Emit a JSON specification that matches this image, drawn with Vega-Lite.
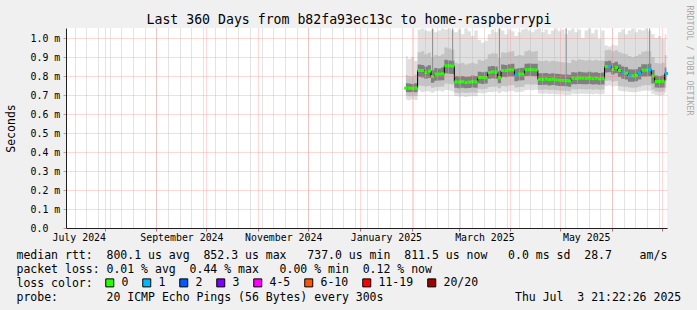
{
  "$schema": "https://vega.github.io/schema/vega-lite/v6.json",
  "width": 601,
  "height": 200,
  "autosize": {"type": "none"},
  "padding": {"left": 66, "top": 28, "right": 30, "bottom": 82},
  "background": "#f0f0f0",
  "view": {"fill": "#ffffff", "stroke": null},
  "config": {"font": "DejaVu Sans Mono"},
  "data": {"values": [
    {"t":"2025-01-28T12:00","med":0.736,"loss":"0","lo":0.676,"b1":0.697,"d1":0.716,"d2":0.762,"b2":0.805,"hi":0.905},
    {"t":"2025-01-30T12:00","med":0.736,"loss":"0","lo":0.672,"b1":0.694,"d1":0.714,"d2":0.760,"b2":0.800,"hi":0.890},
    {"t":"2025-02-01T12:00","med":0.735,"loss":"0","lo":0.678,"b1":0.696,"d1":0.716,"d2":0.758,"b2":0.798,"hi":0.900},
    {"t":"2025-02-03T12:00","med":0.737,"loss":"0","lo":0.674,"b1":0.695,"d1":0.715,"d2":0.762,"b2":0.806,"hi":0.880},
    {"t":"2025-02-05T12:00","med":0.829,"loss":"0","lo":0.722,"b1":0.750,"d1":0.795,"d2":0.860,"b2":0.925,"hi":1.045},
    {"t":"2025-02-07T12:00","med":0.829,"loss":"0","lo":0.716,"b1":0.748,"d1":0.792,"d2":0.858,"b2":0.930,"hi":1.050},
    {"t":"2025-02-09T12:00","med":0.818,"loss":"0","lo":0.720,"b1":0.745,"d1":0.785,"d2":0.850,"b2":0.915,"hi":1.040},
    {"t":"2025-02-11T12:00","med":0.826,"loss":"0","lo":0.718,"b1":0.748,"d1":0.790,"d2":0.856,"b2":0.922,"hi":1.035},
    {"t":"2025-02-13T12:00","med":0.797,"loss":"0","lo":0.712,"b1":0.738,"d1":0.765,"d2":0.830,"b2":0.900,"hi":1.045},
    {"t":"2025-02-15T12:00","med":0.810,"loss":"0","lo":0.720,"b1":0.742,"d1":0.775,"d2":0.842,"b2":0.910,"hi":1.030},
    {"t":"2025-02-17T12:00","med":0.810,"loss":"0","lo":0.722,"b1":0.744,"d1":0.776,"d2":0.840,"b2":0.905,"hi":1.040},
    {"t":"2025-02-19T12:00","med":0.812,"loss":"0","lo":0.718,"b1":0.745,"d1":0.778,"d2":0.845,"b2":0.915,"hi":1.050},
    {"t":"2025-02-21T12:00","med":0.854,"loss":"0","lo":0.726,"b1":0.760,"d1":0.815,"d2":0.885,"b2":0.950,"hi":1.045},
    {"t":"2025-02-23T12:00","med":0.854,"loss":"0","lo":0.724,"b1":0.758,"d1":0.812,"d2":0.882,"b2":0.945,"hi":1.050},
    {"t":"2025-02-25T12:00","med":0.852,"loss":"0","lo":0.720,"b1":0.755,"d1":0.810,"d2":0.880,"b2":0.940,"hi":1.040},
    {"t":"2025-02-27T12:00","med":0.769,"loss":"0","lo":0.695,"b1":0.712,"d1":0.738,"d2":0.800,"b2":0.870,"hi":1.030},
    {"t":"2025-03-01T12:00","med":0.768,"loss":"0","lo":0.692,"b1":0.710,"d1":0.736,"d2":0.798,"b2":0.865,"hi":1.045},
    {"t":"2025-03-03T12:00","med":0.770,"loss":"0","lo":0.694,"b1":0.713,"d1":0.738,"d2":0.800,"b2":0.868,"hi":1.020},
    {"t":"2025-03-05T12:00","med":0.766,"loss":"0","lo":0.690,"b1":0.710,"d1":0.735,"d2":0.796,"b2":0.860,"hi":1.050},
    {"t":"2025-03-07T12:00","med":0.768,"loss":"0","lo":0.693,"b1":0.712,"d1":0.737,"d2":0.798,"b2":0.866,"hi":1.035},
    {"t":"2025-03-09T12:00","med":0.770,"loss":"0","lo":0.696,"b1":0.714,"d1":0.740,"d2":0.802,"b2":0.870,"hi":1.010},
    {"t":"2025-03-11T12:00","med":0.769,"loss":"0","lo":0.694,"b1":0.712,"d1":0.738,"d2":0.800,"b2":0.865,"hi":1.040},
    {"t":"2025-03-13T12:00","med":0.792,"loss":"0","lo":0.710,"b1":0.732,"d1":0.760,"d2":0.822,"b2":0.885,"hi":0.990},
    {"t":"2025-03-15T12:00","med":0.792,"loss":"0","lo":0.708,"b1":0.730,"d1":0.758,"d2":0.820,"b2":0.880,"hi":0.975},
    {"t":"2025-03-17T12:00","med":0.791,"loss":"0","lo":0.712,"b1":0.733,"d1":0.760,"d2":0.822,"b2":0.888,"hi":0.985},
    {"t":"2025-03-19T12:00","med":0.818,"loss":"0","lo":0.716,"b1":0.742,"d1":0.785,"d2":0.850,"b2":0.915,"hi":1.020},
    {"t":"2025-03-21T12:00","med":0.822,"loss":"0","lo":0.714,"b1":0.744,"d1":0.788,"d2":0.852,"b2":0.920,"hi":1.045},
    {"t":"2025-03-23T12:00","med":0.820,"loss":"0","lo":0.718,"b1":0.745,"d1":0.786,"d2":0.850,"b2":0.918,"hi":1.030},
    {"t":"2025-03-25T12:00","med":0.791,"loss":"0","lo":0.710,"b1":0.735,"d1":0.762,"d2":0.825,"b2":0.895,"hi":1.050},
    {"t":"2025-03-27T12:00","med":0.829,"loss":"0","lo":0.718,"b1":0.748,"d1":0.795,"d2":0.860,"b2":0.925,"hi":1.040},
    {"t":"2025-03-29T12:00","med":0.829,"loss":"0","lo":0.716,"b1":0.746,"d1":0.794,"d2":0.858,"b2":0.922,"hi":1.020},
    {"t":"2025-03-31T12:00","med":0.832,"loss":"0","lo":0.720,"b1":0.750,"d1":0.798,"d2":0.862,"b2":0.928,"hi":1.045},
    {"t":"2025-04-02T12:00","med":0.832,"loss":"0","lo":0.722,"b1":0.752,"d1":0.798,"d2":0.865,"b2":0.930,"hi":1.035},
    {"t":"2025-04-04T12:00","med":0.805,"loss":"1","lo":0.715,"b1":0.740,"d1":0.772,"d2":0.838,"b2":0.905,"hi":1.010},
    {"t":"2025-04-06T12:00","med":0.810,"loss":"0","lo":0.716,"b1":0.742,"d1":0.776,"d2":0.842,"b2":0.910,"hi":1.030},
    {"t":"2025-04-08T12:00","med":0.810,"loss":"0","lo":0.718,"b1":0.743,"d1":0.777,"d2":0.843,"b2":0.908,"hi":1.045},
    {"t":"2025-04-10T12:00","med":0.833,"loss":"0","lo":0.726,"b1":0.755,"d1":0.800,"d2":0.865,"b2":0.930,"hi":1.050},
    {"t":"2025-04-12T12:00","med":0.833,"loss":"0","lo":0.728,"b1":0.756,"d1":0.801,"d2":0.866,"b2":0.935,"hi":1.040},
    {"t":"2025-04-14T12:00","med":0.833,"loss":"0","lo":0.725,"b1":0.754,"d1":0.800,"d2":0.864,"b2":0.928,"hi":1.030},
    {"t":"2025-04-16T12:00","med":0.832,"loss":"0","lo":0.727,"b1":0.755,"d1":0.799,"d2":0.865,"b2":0.932,"hi":1.045},
    {"t":"2025-04-18T12:00","med":0.783,"loss":"0","lo":0.708,"b1":0.728,"d1":0.752,"d2":0.815,"b2":0.880,"hi":1.050},
    {"t":"2025-04-20T12:00","med":0.782,"loss":"0","lo":0.706,"b1":0.727,"d1":0.752,"d2":0.814,"b2":0.878,"hi":1.030},
    {"t":"2025-04-22T12:00","med":0.784,"loss":"0","lo":0.708,"b1":0.729,"d1":0.754,"d2":0.816,"b2":0.882,"hi":1.045},
    {"t":"2025-04-24T12:00","med":0.781,"loss":"0","lo":0.705,"b1":0.726,"d1":0.750,"d2":0.812,"b2":0.876,"hi":1.020},
    {"t":"2025-04-26T12:00","med":0.783,"loss":"0","lo":0.707,"b1":0.728,"d1":0.752,"d2":0.815,"b2":0.880,"hi":1.040},
    {"t":"2025-04-28T12:00","med":0.780,"loss":"0","lo":0.704,"b1":0.725,"d1":0.750,"d2":0.812,"b2":0.878,"hi":1.050},
    {"t":"2025-04-30T12:00","med":0.778,"loss":"0","lo":0.703,"b1":0.724,"d1":0.748,"d2":0.810,"b2":0.875,"hi":1.035},
    {"t":"2025-05-02T12:00","med":0.777,"loss":"0","lo":0.702,"b1":0.723,"d1":0.747,"d2":0.808,"b2":0.872,"hi":1.045},
    {"t":"2025-05-04T12:00","med":0.776,"loss":"0","lo":0.700,"b1":0.722,"d1":0.746,"d2":0.808,"b2":0.870,"hi":1.020},
    {"t":"2025-05-06T12:00","med":0.774,"loss":"0","lo":0.700,"b1":0.720,"d1":0.744,"d2":0.806,"b2":0.868,"hi":1.040},
    {"t":"2025-05-08T12:00","med":0.789,"loss":"0","lo":0.706,"b1":0.730,"d1":0.757,"d2":0.820,"b2":0.885,"hi":1.050},
    {"t":"2025-05-10T12:00","med":0.787,"loss":"0","lo":0.705,"b1":0.729,"d1":0.756,"d2":0.818,"b2":0.882,"hi":1.030},
    {"t":"2025-05-12T12:00","med":0.790,"loss":"0","lo":0.707,"b1":0.731,"d1":0.758,"d2":0.822,"b2":0.888,"hi":1.045},
    {"t":"2025-05-14T12:00","med":0.789,"loss":"0","lo":0.706,"b1":0.730,"d1":0.757,"d2":0.820,"b2":0.884,"hi":1.000},
    {"t":"2025-05-16T12:00","med":0.788,"loss":"0","lo":0.705,"b1":0.729,"d1":0.756,"d2":0.818,"b2":0.882,"hi":1.040},
    {"t":"2025-05-18T12:00","med":0.790,"loss":"0","lo":0.707,"b1":0.731,"d1":0.758,"d2":0.822,"b2":0.886,"hi":1.050},
    {"t":"2025-05-20T12:00","med":0.786,"loss":"0","lo":0.704,"b1":0.728,"d1":0.755,"d2":0.818,"b2":0.880,"hi":1.025},
    {"t":"2025-05-22T12:00","med":0.789,"loss":"0","lo":0.706,"b1":0.730,"d1":0.757,"d2":0.820,"b2":0.885,"hi":1.045},
    {"t":"2025-05-24T12:00","med":0.785,"loss":"0","lo":0.704,"b1":0.728,"d1":0.754,"d2":0.816,"b2":0.880,"hi":0.995},
    {"t":"2025-05-26T12:00","med":0.786,"loss":"0","lo":0.705,"b1":0.729,"d1":0.755,"d2":0.818,"b2":0.882,"hi":1.040},
    {"t":"2025-05-28T12:00","med":0.850,"loss":"0","lo":0.748,"b1":0.775,"d1":0.818,"d2":0.878,"b2":0.935,"hi":0.960},
    {"t":"2025-05-30T12:00","med":0.850,"loss":"1","lo":0.750,"b1":0.776,"d1":0.820,"d2":0.880,"b2":0.938,"hi":0.955},
    {"t":"2025-06-01T12:00","med":0.835,"loss":"0","lo":0.745,"b1":0.770,"d1":0.808,"d2":0.868,"b2":0.930,"hi":0.965},
    {"t":"2025-06-03T12:00","med":0.845,"loss":"0","lo":0.748,"b1":0.774,"d1":0.815,"d2":0.875,"b2":0.935,"hi":0.960},
    {"t":"2025-06-05T12:00","med":0.829,"loss":"0","lo":0.722,"b1":0.748,"d1":0.795,"d2":0.860,"b2":0.925,"hi":1.030},
    {"t":"2025-06-07T12:00","med":0.818,"loss":"1","lo":0.720,"b1":0.745,"d1":0.785,"d2":0.850,"b2":0.918,"hi":1.045},
    {"t":"2025-06-09T12:00","med":0.815,"loss":"0","lo":0.718,"b1":0.744,"d1":0.782,"d2":0.848,"b2":0.915,"hi":1.020},
    {"t":"2025-06-11T12:00","med":0.801,"loss":"1","lo":0.716,"b1":0.740,"d1":0.770,"d2":0.835,"b2":0.905,"hi":1.040},
    {"t":"2025-06-13T12:00","med":0.801,"loss":"0","lo":0.715,"b1":0.738,"d1":0.770,"d2":0.834,"b2":0.900,"hi":1.050},
    {"t":"2025-06-15T12:00","med":0.804,"loss":"0","lo":0.716,"b1":0.740,"d1":0.772,"d2":0.836,"b2":0.905,"hi":1.030},
    {"t":"2025-06-17T12:00","med":0.815,"loss":"1","lo":0.718,"b1":0.744,"d1":0.782,"d2":0.848,"b2":0.915,"hi":1.045},
    {"t":"2025-06-19T12:00","med":0.831,"loss":"0","lo":0.722,"b1":0.750,"d1":0.797,"d2":0.862,"b2":0.928,"hi":1.040},
    {"t":"2025-06-21T12:00","med":0.831,"loss":"0","lo":0.724,"b1":0.752,"d1":0.798,"d2":0.862,"b2":0.930,"hi":1.050},
    {"t":"2025-06-23T12:00","med":0.833,"loss":"1","lo":0.723,"b1":0.751,"d1":0.799,"d2":0.864,"b2":0.930,"hi":1.035},
    {"t":"2025-06-25T12:00","med":0.800,"loss":"0","lo":0.706,"b1":0.728,"d1":0.760,"d2":0.832,"b2":0.900,"hi":1.020},
    {"t":"2025-06-27T12:00","med":0.771,"loss":"0","lo":0.700,"b1":0.718,"d1":0.740,"d2":0.802,"b2":0.868,"hi":1.000},
    {"t":"2025-06-29T12:00","med":0.771,"loss":"0","lo":0.698,"b1":0.716,"d1":0.738,"d2":0.800,"b2":0.866,"hi":1.010},
    {"t":"2025-07-01T12:00","med":0.773,"loss":"0","lo":0.700,"b1":0.718,"d1":0.740,"d2":0.804,"b2":0.870,"hi":0.995},
    {"t":"2025-07-03T12:00","med":0.813,"loss":"1","lo":0.712,"b1":0.738,"d1":0.778,"d2":0.845,"b2":0.910,"hi":1.020}
  ]},
  "layer": [
    {
      "mark": {"type": "area", "interpolate": "step", "color": "#e0e0e0"},
      "encoding": {
        "x": {"field": "t", "type": "temporal",
          "scale": {"domain": [{"year": 2024, "month": 7, "date": 8, "hours": 21, "minutes": 22}, {"year": 2025, "month": 7, "date": 3, "hours": 21, "minutes": 22}]},
          "axis": {"orient": "bottom", "tickCount": {"interval": "week", "step": 1}, "grid": true, "gridColor": "#bcbcbc", "gridDash": [1, 1], "gridOpacity": 0.8, "labels": false, "ticks": false, "domain": false, "title": null, "zindex": 1, "maxExtent": 0, "minExtent": 0}},
        "y": {"field": "lo", "type": "quantitative",
          "scale": {"domain": [0, 1.052632], "nice": false, "zero": true},
          "axis": {"orient": "left", "values": [0, 0.1, 0.2, 0.3, 0.4, 0.5, 0.6, 0.7, 0.8, 0.9, 1.0],
            "labelExpr": "datum.value == 0 ? '0.0' : format(datum.value, '.1f') + ' m'",
            "labelAlign": "left", "labelPadding": 33, "labelBaseline": "middle", "labelFont": "DejaVu Sans Mono", "labelFontSize": 9.9, "labelColor": "#000000",
            "labelFlush": false, "labelOverlap": false, "labelBound": false,
            "ticks": true, "tickSize": 3, "tickColor": "#e09090",
            "grid": true, "gridColor": "#ff8080", "gridDash": [1, 1], "gridOpacity": 0.6,
            "domain": true, "domainColor": "#202020",
            "title": "Seconds", "titleX": -55, "titleY": 100, "titleAngle": 270, "titleAlign": "center", "titleBaseline": "middle",
            "titleFont": "DejaVu Sans Mono", "titleFontSize": 11.5, "titleFontWeight": "normal", "titleColor": "#000000", "zindex": 1}},
        "y2": {"field": "hi"}
      }
    },
    {
      "mark": {"type": "area", "interpolate": "step", "color": "#c4c4c4"},
      "encoding": {
        "x": {"field": "t", "type": "temporal",
          "axis": {"orient": "bottom", "tickCount": {"interval": "month", "step": 1}, "grid": true, "gridColor": "#ff8080", "gridDash": [1, 1], "gridOpacity": 0.6, "labels": false, "ticks": true, "tickSize": 3, "tickColor": "#c07070", "domain": false, "title": null, "zindex": 1, "maxExtent": 0, "minExtent": 0}},
        "y": {"field": "b1", "type": "quantitative",
          "axis": {"orient": "right", "labels": false, "ticks": false, "domain": false, "grid": false,
            "title": "RRDTOOL / TOBI OETIKER", "titleX": 21, "titleY": 32, "titleAngle": 90, "titleAlign": "center", "titleBaseline": "middle",
            "titleFont": "DejaVu Sans Mono", "titleFontSize": 8.3, "titleFontWeight": "normal", "titleColor": "#a8a8a8"}},
        "y2": {"field": "b2"}
      }
    },
    {
      "mark": {"type": "area", "interpolate": "step", "color": "#808080"},
      "encoding": {
        "x": {"field": "t", "type": "temporal",
          "axis": {"orient": "bottom",
            "values": [{"year": 2024, "month": 7, "date": 16, "hours": 12}, {"year": 2024, "month": 9, "date": 16}, {"year": 2024, "month": 11, "date": 16}, {"year": 2025, "month": 1, "date": 16, "hours": 12}, {"year": 2025, "month": 3, "date": 16, "hours": 12}, {"year": 2025, "month": 5, "date": 16, "hours": 12}],
            "labelExpr": "timeFormat(datum.value, '%B %Y')",
            "grid": false, "ticks": false, "domain": true, "domainColor": "#202020",
            "labelFont": "DejaVu Sans Mono", "labelFontSize": 9.9, "labelColor": "#000000", "labelPadding": 4,
            "labelFlush": false, "labelOverlap": false, "labelBound": false,
            "title": [
              "median\u00a0rtt:\u00a0\u00a0800.1\u00a0us\u00a0avg\u00a0\u00a0852.3\u00a0us\u00a0max\u00a0\u00a0\u00a0737.0\u00a0us\u00a0min\u00a0\u00a0811.5\u00a0us\u00a0now\u00a0\u00a0\u00a00.0\u00a0ms\u00a0sd\u00a0\u00a028.7\u00a0\u00a0\u00a0\u00a0am/s",
              "packet\u00a0loss:\u00a00.01\u00a0%\u00a0avg\u00a0\u00a00.44\u00a0%\u00a0max\u00a0\u00a0\u00a00.00\u00a0%\u00a0min\u00a0\u00a00.12\u00a0%\u00a0now",
              "loss\u00a0color:",
              "probe:\u00a0\u00a0\u00a0\u00a0\u00a0\u00a0\u00a020\u00a0ICMP\u00a0Echo\u00a0Pings\u00a0(56\u00a0Bytes)\u00a0every\u00a0300s\u00a0\u00a0\u00a0\u00a0\u00a0\u00a0\u00a0\u00a0\u00a0\u00a0\u00a0\u00a0\u00a0\u00a0\u00a0\u00a0\u00a0\u00a0\u00a0Thu\u00a0Jul\u00a0\u00a03\u00a021:22:26\u00a02025"
            ],
            "titleX": -50, "titleY": 30, "titleAlign": "left", "titleBaseline": "alphabetic", "titleLineHeight": 14.1,
            "titleFont": "DejaVu Sans Mono", "titleFontSize": 11.5, "titleFontWeight": "normal", "titleColor": "#000000", "zindex": 1}},
        "y": {"field": "d1", "type": "quantitative", "axis": null},
        "y2": {"field": "d2"}
      }
    },
    {
      "data": {"values": [
        {"t": "2025-02-13T12:00", "lo": 0.80, "hi": 1.05},
        {"t": "2025-02-25T12:00", "lo": 0.852, "hi": 1.05},
        {"t": "2025-03-25T12:00", "lo": 0.79, "hi": 1.05},
        {"t": "2025-05-04T12:00", "lo": 0.776, "hi": 1.05},
        {"t": "2025-06-23T12:00", "lo": 0.833, "hi": 1.05}
      ]},
      "mark": {"type": "rule", "color": "#8a8a8a", "strokeWidth": 1},
      "encoding": {
        "x": {"field": "t", "type": "temporal",
          "axis": {"orient": "top", "labels": false, "ticks": false, "domain": false, "grid": false,
            "title": "Last 360 Days from b82fa93ec13c to home-raspberrypi", "titleX": 282.5, "titleY": -5, "titleAlign": "center", "titleBaseline": "alphabetic",
            "titleFont": "DejaVu Sans Mono", "titleFontSize": 13.2, "titleFontWeight": "normal", "titleColor": "#000000"}},
        "y": {"field": "lo", "type": "quantitative", "axis": null},
        "y2": {"field": "hi"}
      }
    },
    {
      "mark": {"type": "line", "interpolate": "step", "color": "#000000", "strokeWidth": 1},
      "encoding": {
        "x": {"field": "t", "type": "temporal", "axis": null},
        "y": {"field": "med", "type": "quantitative", "axis": null}
      }
    },
    {
      "mark": {"type": "tick", "orient": "horizontal", "size": 3.4, "thickness": 3, "opacity": 1},
      "encoding": {
        "x": {"field": "t", "type": "temporal", "axis": null},
        "y": {"field": "med", "type": "quantitative", "axis": null},
        "color": {"field": "loss", "type": "nominal",
          "scale": {"domain": ["0", "1", "2", "3", "4-5", "6-10", "11-19", "20/20"], "range": ["#26ff00", "#00b8ff", "#0059ff", "#7e00ff", "#ff00ff", "#ff5500", "#ff0000", "#a10000"]},
          "legend": {"orient": "none", "legendX": 38, "legendY": 249, "direction": "horizontal", "columns": 8, "title": null,
            "symbolType": "square", "symbolSize": 64, "symbolStrokeColor": "#000000", "symbolStrokeWidth": 1, "symbolOpacity": 1,
            "labelFont": "DejaVu Sans Mono", "labelFontSize": 11.5, "labelColor": "#000000", "labelOffset": 6, "columnPadding": 11, "padding": 0, "rowPadding": 0,
            "encode": {"symbols": {"update": {"stroke": {"value": "#000000"}, "strokeWidth": {"value": 1}}}}}}
      }
    }
  ],
  "resolve": {"axis": {"x": "independent", "y": "independent"}}
}
